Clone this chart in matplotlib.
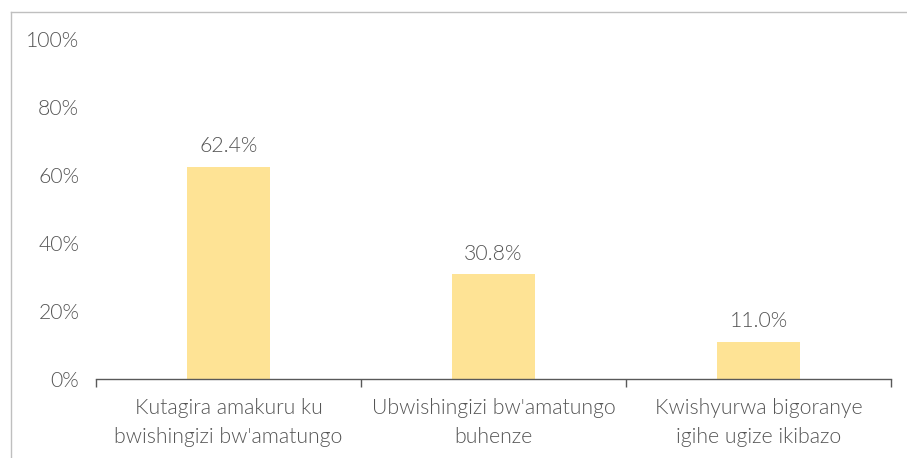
import matplotlib.pyplot as plt
from matplotlib.lines import Line2D

# data
categories = ["Kutagira amakuru ku\nbwishingizi bw'amatungo",
              "Ubwishingizi bw'amatungo\nbuhenze",
              "Kwishyurwa bigoranye\nigihe ugize ikibazo"]
values = [62.4, 30.8, 11.0]
yticks = [0, 20, 40, 60, 80, 100]

plt.rcParams['font.family'] = ['Lato', 'DejaVu Sans']
text_color = '#555555'
bar_color = '#FEE395'
fs = 15.3
fw = 300

fig = plt.figure(figsize=(9.07, 4.58), dpi=100)
ax = fig.add_axes([96 / 907, 79 / 458, 795 / 907, 340 / 458])

x = list(range(len(categories)))
bars = ax.bar(x, values, width=0.31, color=bar_color, zorder=2)

for xi, v in zip(x, values):
    ax.annotate(f"{v:.1f}%", (xi, v), xytext=(0, 7.5), textcoords='offset points',
                ha='center', va='bottom', fontsize=fs, color=text_color,
                fontweight=fw)

ax.set_xlim(-0.5, len(categories) - 0.5)
ax.set_ylim(0, 100)
ax.set_yticks(yticks)
ax.set_yticklabels([f"{t}%" for t in yticks], fontsize=fs, color=text_color,
                   fontweight=fw)
ax.tick_params(axis='y', length=0, pad=12)

# category labels centered, ticks between categories
ax.set_xticks(x)
ax.set_xticklabels(categories, fontsize=fs, color=text_color, fontweight=fw,
                   linespacing=1.55)
ax.tick_params(axis='x', which='major', length=0, pad=14)
ax.set_xticks([i - 0.5 for i in range(len(categories) + 1)], minor=True)
ax.tick_params(axis='x', which='minor', length=6, color='#595959', width=1)

for s in ['top', 'right', 'left']:
    ax.spines[s].set_visible(False)
ax.spines['bottom'].set_color('#595959')
ax.spines['bottom'].set_linewidth(1)

# partial frame around the chart (left and top edges)
fig.add_artist(Line2D([10.5 / 907, 10.5 / 907], [0, 1 - 12 / 458],
                      transform=fig.transFigure, color='#BFBFBF', lw=1))
fig.add_artist(Line2D([10.5 / 907, 1], [1 - 12 / 458, 1 - 12 / 458],
                      transform=fig.transFigure, color='#BFBFBF', lw=1))

fig.savefig('out.png', dpi=100)
